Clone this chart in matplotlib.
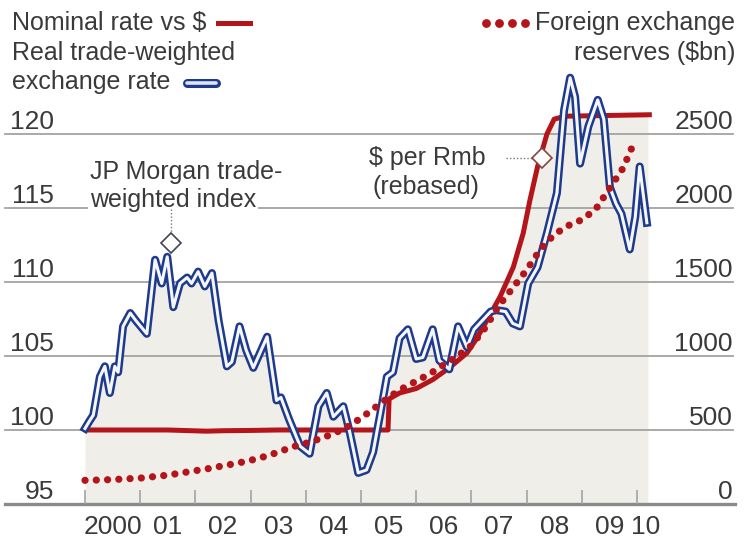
import numpy as np
import matplotlib.pyplot as plt

# Real trade-weighted exchange rate (JP Morgan index, Jan 2000 = 100)
blue_years = [2000.00, 2000.08, 2000.15, 2000.22, 2000.27, 2000.36, 2000.45, 2000.54, 2000.60, 2000.69,
              2000.82, 2000.92, 2001.12, 2001.27, 2001.39, 2001.49, 2001.60, 2001.72, 2001.85, 2001.93,
              2002.05, 2002.17, 2002.30, 2002.42, 2002.57, 2002.66, 2002.80, 2002.92, 2003.05, 2003.30,
              2003.47, 2003.55, 2003.70, 2003.90, 2004.07, 2004.23, 2004.38, 2004.50, 2004.68, 2004.80,
              2004.95, 2005.10, 2005.22, 2005.35, 2005.47, 2005.58, 2005.70, 2005.85, 2006.00, 2006.12,
              2006.30, 2006.42, 2006.60, 2006.76, 2006.92, 2007.05, 2007.20, 2007.35, 2007.45, 2007.62,
              2007.75, 2007.88, 2008.03, 2008.20, 2008.37, 2008.55, 2008.68, 2008.79, 2008.88, 2008.97,
              2009.12, 2009.29, 2009.40, 2009.51, 2009.62, 2009.72, 2009.87, 2009.97, 2010.05, 2010.18]
blue_vals = [100.1, 100.6, 101.0, 102.5, 103.6, 104.3, 102.5, 104.3, 103.9, 107.0,
             107.9, 107.4, 106.5, 111.5, 109.9, 111.7, 108.3, 109.9, 110.3, 109.9,
             110.7, 109.7, 110.6, 107.4, 104.3, 104.6, 107.0, 105.4, 104.2, 106.3,
             102.0, 102.2, 100.7, 98.9, 98.4, 101.6, 102.5, 100.9, 101.6, 99.8,
             97.1, 97.3, 98.5, 101.1, 103.6, 103.9, 106.2, 106.8, 104.8, 104.9,
             106.8, 104.7, 104.1, 107.0, 105.6, 106.8, 107.4, 108.0, 108.1, 108.0,
             107.2, 107.0, 109.9, 111.0, 113.3, 116.0, 121.6, 123.8, 122.5, 118.0,
             120.5, 122.3, 121.0, 116.4, 115.3, 114.6, 112.2, 114.4, 117.8, 114.0]

# Nominal rate vs $ ($ per Rmb, rebased)
nominal_years = [2000.0, 2001.5, 2002.2, 2002.5, 2003.0, 2003.5, 2004.5, 2005.49, 2005.51, 2005.7,
                 2006.0, 2006.3, 2006.6, 2006.92, 2007.1, 2007.28, 2007.52, 2007.76, 2007.94, 2008.06,
                 2008.2, 2008.37, 2008.5, 2008.7, 2010.27]
nominal_vals = [100.0, 100.0, 99.92, 99.95, 99.97, 100.0, 100.0, 100.0, 102.1, 102.5,
                102.8, 103.4, 104.2, 105.2, 106.2, 107.4, 109.0, 111.0, 113.3, 115.5,
                117.8, 120.0, 121.0, 121.2, 121.3]

# Foreign exchange reserves, $bn
reserve_years = [2000.0, 2000.25, 2000.5, 2000.75, 2001.0, 2001.25, 2001.5, 2001.75, 2002.0, 2002.25,
                 2002.5, 2002.75, 2003.0, 2003.25, 2003.5, 2003.75, 2004.0, 2004.25, 2004.5, 2004.75,
                 2005.0, 2005.25, 2005.5, 2005.75, 2006.0, 2006.25, 2006.5, 2006.75, 2007.0, 2007.25,
                 2007.5, 2007.75, 2008.0, 2008.25, 2008.5, 2008.75, 2009.0, 2009.25, 2009.5, 2009.75,
                 2009.9]
reserve_vals = [160, 162, 165, 170, 175, 185, 195, 210, 225, 240,
                258, 275, 295, 320, 350, 385, 410, 440, 475, 520,
                580, 650, 720, 780, 830, 880, 940, 1000, 1070, 1190,
                1340, 1460, 1580, 1720, 1820, 1880, 1920, 1990, 2130, 2270,
                2400]

left_ticks = [95, 100, 105, 110, 115, 120]
right_ticks = [0, 500, 1000, 1500, 2000, 2500]
year_ticks = list(range(2000, 2011))
year_labels = ["2000", "01", "02", "03", "04", "05", "06", "07", "08", "09", "10"]

RED = "#b3151b"
NAVY = "#1e3a8c"
SHADE = "#efeee8"
GRID = "#a3a3a3"
TEXT = "#3a3a3a"

plt.rcParams["font.family"] = ["Liberation Sans", "DejaVu Sans"]

fig = plt.figure(figsize=(7.44, 5.45), dpi=100)
ax = fig.add_axes([0, 0, 1, 1])
ax.set_xlim(1998.46, 2011.94)
ax.set_ylim(92.23, 129.05)
ax.set_axis_off()

ax2 = ax.twinx()
ax2.set_ylim(-277, 3405)
ax2.set_axis_off()

# shaded area under the higher of the two rate lines
xs = np.linspace(2000, 2010.2, 800)
top = np.maximum(np.interp(xs, blue_years, blue_vals), np.interp(xs, nominal_years, nominal_vals))
ax.fill_between(xs, 95, top, color=SHADE, lw=0, zorder=0)

# grid lines and axis
for v in left_ticks[1:]:
    ax.axhline(v, xmin=0.007, xmax=0.985, color=GRID, lw=1.3, zorder=1)
ax.axhline(95, xmin=0.007, xmax=0.988, color="#8a8a8a", lw=2.4, zorder=1)
ax.vlines(year_ticks, 95, 95.95, color=GRID, lw=1.2, zorder=1)

# tick labels
for v in left_ticks:
    ax.text(1999.44, v + 0.35, str(v), ha="right", va="baseline", fontsize=19, color=TEXT)
for r in right_ticks:
    ax2.text(2011.74, r + 35, str(r), ha="right", va="baseline", fontsize=19, color=TEXT)
label_x = [y + 0.5 for y in year_ticks[:-1]] + [2010.15]
for xl, lab in zip(label_x, year_labels):
    ax.text(xl, 93.45, lab, ha="center", va="center", fontsize=19, color=TEXT)

# lines
ax.plot(nominal_years, nominal_vals, color=RED, lw=3.6, zorder=2, solid_capstyle="butt")
ax.plot(blue_years, blue_vals, color=NAVY, lw=5.8, zorder=3, solid_joinstyle="round")
ax.plot(blue_years, blue_vals, color="#f5f7fc", lw=2.2, zorder=4, solid_joinstyle="round")
ax2.plot(reserve_years, reserve_vals, color=RED, lw=5.2, linestyle=(0, (0.01, 1.55)),
         dash_capstyle="round", zorder=5)

# annotations
ax.text(2000.09, 117.43, "JP Morgan trade-", ha="left", va="center", fontsize=18, color=TEXT,
        zorder=6)
ax.text(2000.09, 115.54, "weighted index", ha="left", va="center", fontsize=18, color=TEXT,
        zorder=6, bbox=dict(facecolor="white", edgecolor="none", pad=1))
ax.plot([2001.55, 2001.55], [114.9, 113.2], color="#777777", lw=1, ls=(0, (1, 1.5)), zorder=6)
ax.plot([2001.55], [112.6], marker="D", ms=10, mfc="white", mec="#445", mew=1.2, zorder=7)

ax.text(2006.21, 118.38, "$ per Rmb", ha="center", va="center", fontsize=18, color=TEXT, zorder=6)
ax.text(2006.17, 116.42, "(rebased)", ha="center", va="center", fontsize=18, color=TEXT, zorder=6)
ax.plot([2007.63, 2008.15], [118.4, 118.4], color="#777777", lw=1, ls=(0, (1, 1.5)), zorder=6)
ax.plot([2008.28], [118.4], marker="D", ms=10, mfc="white", mec="#844", mew=1.2, zorder=7)

# legend, top left
tf = fig.transFigure
ax.text(12 / 744, 1 - 23 / 545, "Nominal rate vs $", transform=tf, ha="left", va="center",
        fontsize=18, color=TEXT)
ax.plot([218 / 744, 250 / 744], [1 - 23 / 545] * 2, transform=tf, color=RED, lw=3.6)
ax.text(12 / 744, 1 - 53 / 545, "Real trade-weighted", transform=tf, ha="left", va="center",
        fontsize=18, color=TEXT)
ax.text(12 / 744, 1 - 82 / 545, "exchange rate", transform=tf, ha="left", va="center",
        fontsize=18, color=TEXT)
ax.plot([187 / 744, 216 / 744], [1 - 83 / 545] * 2, transform=tf, color=NAVY, lw=6.5,
        solid_capstyle="round")
ax.plot([187 / 744, 216 / 744], [1 - 83 / 545] * 2, transform=tf, color="#dde4f2", lw=2.6,
        solid_capstyle="round")

# legend, top right
ax.text(735 / 744, 1 - 23 / 545, "Foreign exchange", transform=tf, ha="right", va="center",
        fontsize=18, color=TEXT)
ax.text(735 / 744, 1 - 53 / 545, "reserves ($bn)", transform=tf, ha="right", va="center",
        fontsize=18, color=TEXT)
ax.scatter(np.linspace(486, 525, 4) / 744, [1 - 23 / 545] * 4, transform=tf, s=40, color=RED,
           linewidths=0)

fig.savefig("out.png", dpi=100, facecolor="white")
